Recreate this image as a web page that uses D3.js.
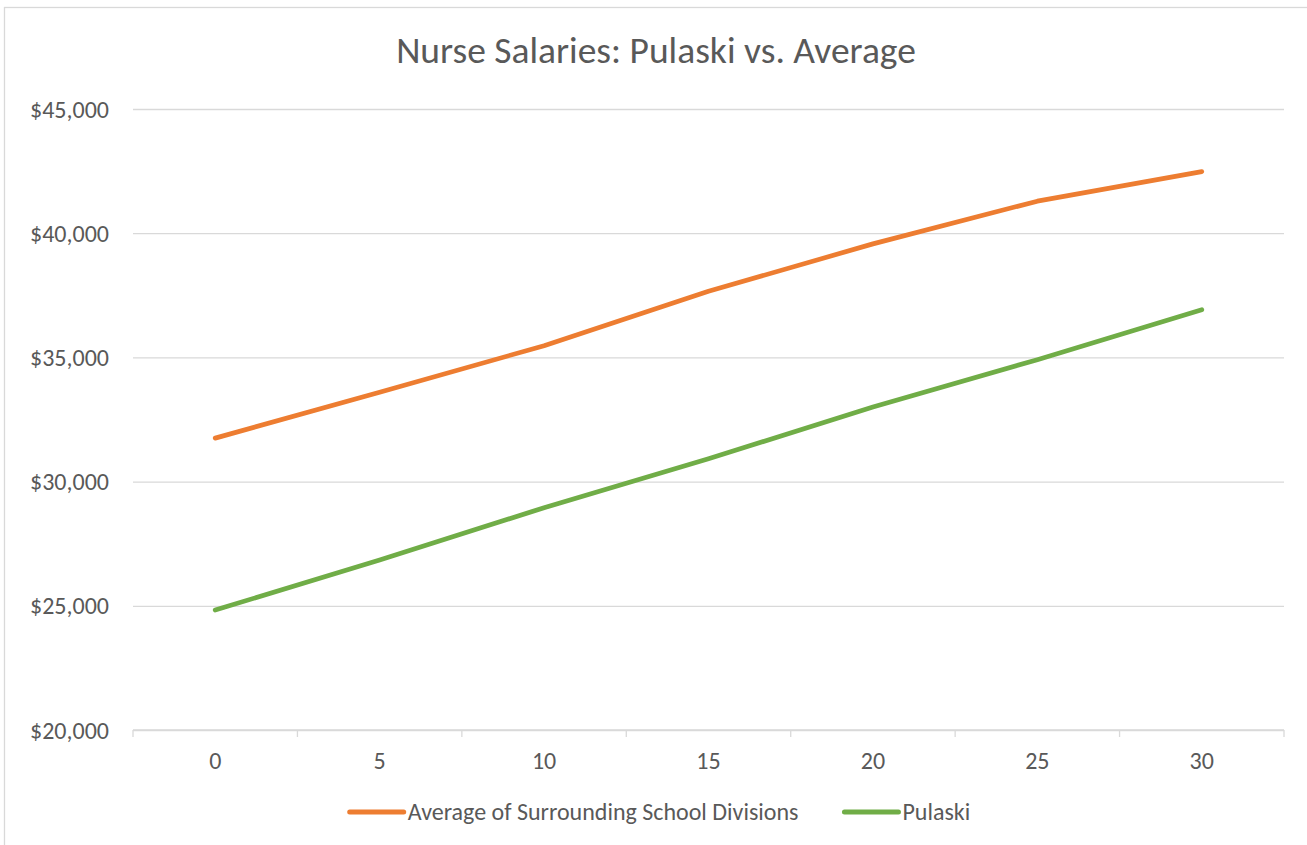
<!DOCTYPE html>
<html>
<head>
<meta charset="utf-8">
<script src="https://cdn.jsdelivr.net/npm/d3@7"></script>
<style>
    body { margin: 0; background: #fff; }
    .chart text { font-family: Carlito, Calibri, Lato, sans-serif; fill: #595959; }
</style>
</head>
<body>
<div id="myfigure"></div>
<script>
var years = ["0", "5", "10", "15", "20", "25", "30"];
var averageSalary = [31750, 33600, 35470, 37660, 39570, 41290, 42480];
var pulaskiSalary = [24830, 26840, 28950, 30920, 33000, 34910, 36920];
var salaryTicks = [20000, 25000, 30000, 35000, 40000, 45000];
var seriesNames = ["Average of Surrounding School Divisions", "Pulaski"];
var seriesColors = ["#ED7D31", "#70AD47"];

var width = 1307;
var height = 845;
var plot = { left: 133, right: 1284, top: 109, bottom: 730 };
var centerX = 656;

var svg = d3.select("#myfigure")
    .append("svg")
    .attr("class", "chart")
    .attr("width", width)
    .attr("height", height);

// chart border (runs off the right and bottom of the picture)
svg.append("rect")
    .attr("x", 4.5)
    .attr("y", 7.5)
    .attr("width", 1320)
    .attr("height", 860)
    .attr("fill", "#fff")
    .attr("stroke", "#d9d9d9")
    .attr("stroke-width", 1.3);

var xScale = d3.scaleBand().domain(years).range([plot.left, plot.right]).padding(0);
var yScale = d3.scaleLinear().domain([20000, 45000]).range([plot.bottom, plot.top]);

// gridlines + y labels
var yAxis = d3.axisLeft(yScale)
    .tickValues(salaryTicks)
    .tickSize(-(plot.right - plot.left))
    .tickPadding(24)
    .tickFormat(function(d) { return "$" + d3.format(",")(d); });

var gy = svg.append("g")
    .attr("transform", "translate(" + plot.left + ",0)")
    .call(yAxis);
gy.select(".domain").remove();
gy.selectAll(".tick line").attr("stroke", "#d9d9d9").attr("stroke-width", 1.3);
gy.selectAll(".tick text").style("font-size", "24px").attr("dy", "0.34em");

// category axis, ticks sit between categories
var gx = svg.append("g")
    .attr("transform", "translate(0," + plot.bottom + ")");
gx.append("line")
    .attr("x1", plot.left).attr("x2", plot.right)
    .attr("stroke", "#d9d9d9").attr("stroke-width", 1.3);
var bounds = years.map(function(d) { return xScale(d); }).concat([xScale.range()[1]]);
gx.selectAll(".sep")
    .data(bounds)
    .enter().append("line")
    .attr("x1", function(d) { return d; })
    .attr("x2", function(d) { return d; })
    .attr("y1", 0).attr("y2", 7)
    .attr("stroke", "#d9d9d9").attr("stroke-width", 1.3);
gx.selectAll(".lab")
    .data(years)
    .enter().append("text")
    .attr("x", function(d) { return xScale(d) + xScale.bandwidth() / 2; })
    .attr("y", 39)
    .style("text-anchor", "middle")
    .style("font-size", "24px")
    .text(function(d) { return d; });

// series lines
var line = d3.line()
    .x(function(d, i) { return xScale(years[i]) + xScale.bandwidth() / 2; })
    .y(function(d) { return yScale(d); });

[averageSalary, pulaskiSalary].forEach(function(values, i) {
    svg.append("path")
        .datum(values)
        .attr("d", line)
        .attr("fill", "none")
        .attr("stroke", seriesColors[i])
        .attr("stroke-width", 4.7)
        .attr("stroke-linecap", "round")
        .attr("stroke-linejoin", "round");
});

// title
svg.append("text")
    .attr("x", centerX)
    .attr("y", 63)
    .style("text-anchor", "middle")
    .style("font-size", "37.5px")
    .text("Nurse Salaries: Pulaski vs. Average");

// legend
var legend = svg.append("g");
var swatch = 54, gap = 4, itemGap = 46;
var items = legend.selectAll(".item")
    .data(seriesNames)
    .enter().append("g");
items.append("line")
    .attr("x1", 0).attr("x2", swatch)
    .attr("y1", 0).attr("y2", 0)
    .attr("stroke", function(d, i) { return seriesColors[i]; })
    .attr("stroke-width", 5)
    .attr("stroke-linecap", "round");
items.append("text")
    .attr("x", swatch + gap)
    .attr("dy", "0.34em")
    .style("font-size", "24px")
    .text(function(d) { return d; });
var offset = 0;
items.each(function() {
    var w = swatch + gap + d3.select(this).select("text").node().getComputedTextLength();
    d3.select(this).attr("transform", "translate(" + offset + ",0)");
    offset += w + itemGap;
});
var total = offset - itemGap;
legend.attr("transform", "translate(" + (centerX + 4 - total / 2) + ",812)");
</script>
</body>
</html>
